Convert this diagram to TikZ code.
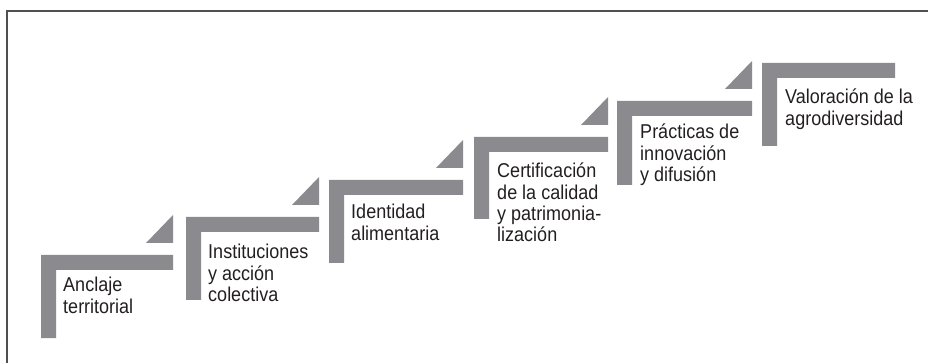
\documentclass[tikz,border=0pt]{standalone}
\usepackage{fontspec}
\setmainfont{Liberation Sans}
\definecolor{stepgray}{RGB}{139,139,143}
\definecolor{framegray}{RGB}{80,80,80}
\definecolor{txtcol}{RGB}{35,31,32}
\newcommand{\stairstep}[4]{%
  \fill[stepgray] (#1,#2) -- (#3,#2) -- (#3,#2+15) -- (#1+15,#2+15) -- (#1+15,#4) -- (#1,#4) -- cycle;}
\newcommand{\stairtri}[2]{%
  \fill[stepgray] (#1,#2-40) -- (#1,#2-12) -- (#1-27,#2-12) -- cycle;}
\begin{document}
\begin{tikzpicture}[x=0.75pt,y=-0.75pt,
  steptext/.style={anchor=north west, inner sep=0pt, align=left, text=txtcol,
    xscale=0.9, transform shape,
    font=\fontsize{15}{16}\selectfont}]
\useasboundingbox (0,0) rectangle (928,363);
\draw[framegray, line width=1.5pt] (6.5,363) -- (6.5,11.5) -- (928,11.5);
% steps
\stairstep{41}{255}{173}{338}\stairtri{173}{255}
\stairstep{186}{217}{319}{300}\stairtri{319}{217}
\stairstep{329}{180}{463}{263}\stairtri{463}{180}
\stairstep{474}{137}{608}{219}\stairtri{608}{137}
\stairstep{617}{101}{752}{185}\stairtri{752}{101}
\stairstep{762}{63}{895}{146}
% texts
\node[steptext] (s1) at (63,277) {Anclaje\\territorial};
\node[steptext] (s2) at (208,244) {Instituciones\\y acción\\colectiva};
\node[steptext] (s3) at (351,204) {Identidad\\alimentaria};
\node[steptext] (s4) at (497,163) {Certificación\\de la calidad\\y patrimonia-\\lización};
\node[steptext] (s5) at (640,124) {Prácticas de\\innovación\\y difusión};
\node[steptext] (s6) at (785,89) {Valoración de la\\agrodiversidad};
\end{tikzpicture}
\end{document}
